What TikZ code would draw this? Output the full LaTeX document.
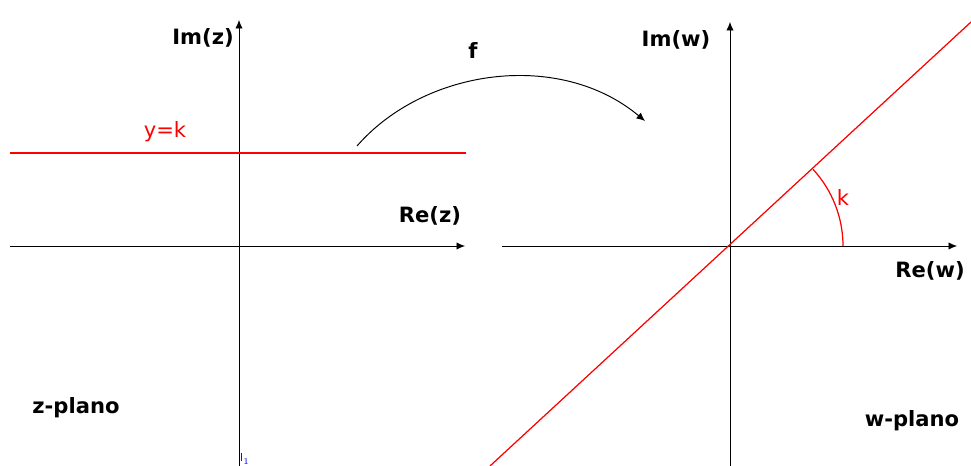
\documentclass[tikz,border=0pt]{standalone}
\usepackage{fontspec}
\setmainfont{DejaVu Sans}
\usepackage{tikz}
\usetikzlibrary{arrows.meta, positioning, calc}
\tikzset{
  axisarrow/.style={
    -{Latex[length=1.7mm, width=1.5mm]}, line width=0.55pt, color=black
  },
  mapline/.style={
    line width=0.7pt, color=red
  },
  axislabel/.style={
    font=\fontsize{12}{14}\selectfont\bfseries, inner sep=0pt
  },
  redlabel/.style={
    font=\fontsize{12}{14}\selectfont, text=red, inner sep=0pt
  },
}
\begin{document}
\begin{tikzpicture}[x=0.02cm, y=0.02cm]
  \useasboundingbox (0,0) rectangle (971,466);

  % z-plane
  \coordinate (zleft) at (10,220);
  \coordinate (zright) at (465,220);
  \coordinate (zbottom) at (239,0);
  \coordinate (ztop) at (239,446);
  \draw[axisarrow] (zleft) -- (zright);
  \draw[axisarrow] (zbottom) -- (ztop);
  \draw[mapline] (10,313) coordinate (kleft) -- (466,313) coordinate (kright);
  \node[axislabel] (imz) at (203,428) {Im(z)};
  \node[axislabel] (rez) at (430,250) {Re(z)};
  \node[redlabel] (ykz) at (165,334) {y=k};
  \node[axislabel] (zplano) at (76,58) {z-plano};
  \node[font=\fontsize{6}{7}\selectfont, text=blue, inner sep=0pt] (lone) at (245,7) {l$_1$};

  % map f
  \coordinate (fstart) at (357,320);
  \coordinate (fend) at (645,345);
  \draw[-{Latex[length=1.7mm, width=1.5mm]}, line width=0.55pt]
    (fstart) .. controls (425,398) and (560,416) .. (fend);
  \node[axislabel] (fmap) at (473,416) {f};

  % w-plane
  \coordinate (wleft) at (502,220);
  \coordinate (wright) at (957,220);
  \coordinate (wbottom) at (730,0);
  \coordinate (wtop) at (730,444);
  \coordinate (worig) at (730,220);
  \draw[axisarrow] (wleft) -- (wright);
  \draw[axisarrow] (wbottom) -- (wtop);
  \draw[mapline] (490,0) coordinate (wlinea) -- (971,444) coordinate (wlineb);
  \draw[mapline] ($(worig)+(113,0)$) arc[start angle=0, end angle=42.7, radius=2.26cm];
  \node[axislabel] (imw) at (676,426) {Im(w)};
  \node[axislabel] (rew) at (930,195) {Re(w)};
  \node[redlabel] (kangle) at (843,269) {k};
  \node[axislabel] (wplano) at (912,45) {w-plano};
\end{tikzpicture}
\end{document}
